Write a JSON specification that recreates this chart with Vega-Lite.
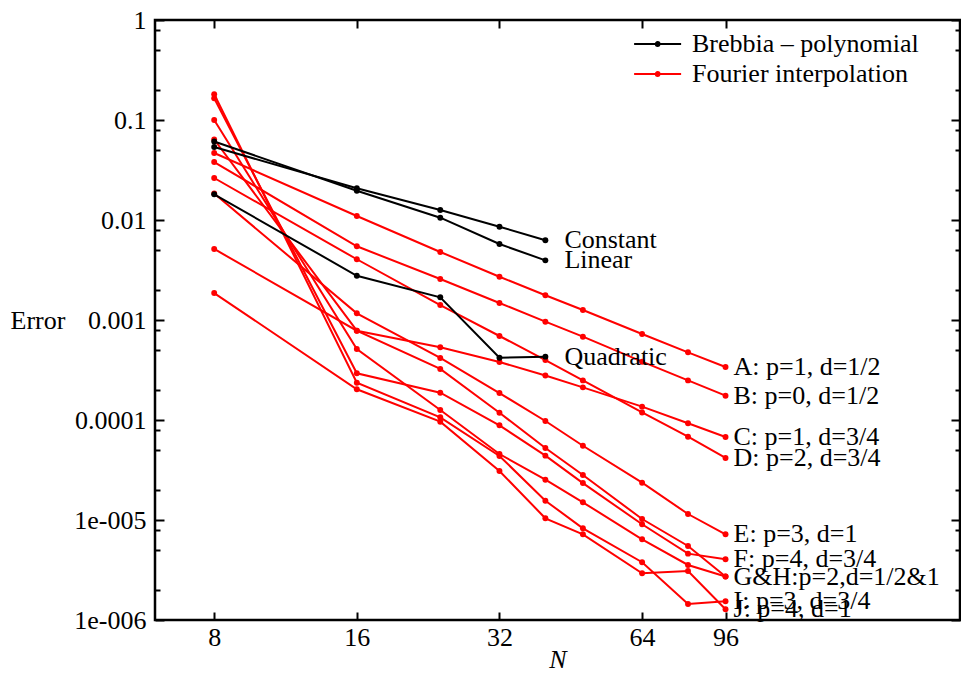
{
  "$schema": "https://vega.github.io/schema/vega-lite/v6.json",
  "width": 805,
  "height": 600,
  "autosize": {"type": "none"},
  "padding": {"left": 155, "top": 20, "right": 1, "bottom": 53},
  "background": "white",
  "config": {
    "view": {"stroke": "black", "strokeWidth": 2.5},
    "font": "Liberation Serif",
    "axis": {
      "grid": false,
      "domain": false,
      "tickColor": "black",
      "tickWidth": 2,
      "labelFont": "Liberation Serif",
      "labelFontSize": 26,
      "labelColor": "black",
      "titleFont": "Liberation Serif",
      "titleFontSize": 26,
      "titleFontWeight": "normal",
      "titleColor": "black",
      "labelFlush": false,
      "labelOverlap": false
    }
  },
  "datasets": {
    "curves": [
      {"curve": "A", "method": "Fourier interpolation", "N": 8, "err": 0.0468},
      {"curve": "A", "method": "Fourier interpolation", "N": 16, "err": 0.01096},
      {"curve": "A", "method": "Fourier interpolation", "N": 24, "err": 0.00479},
      {"curve": "A", "method": "Fourier interpolation", "N": 32, "err": 0.00271},
      {"curve": "A", "method": "Fourier interpolation", "N": 40, "err": 0.001766},
      {"curve": "A", "method": "Fourier interpolation", "N": 48, "err": 0.001259},
      {"curve": "A", "method": "Fourier interpolation", "N": 64, "err": 0.000724},
      {"curve": "A", "method": "Fourier interpolation", "N": 80, "err": 0.000475},
      {"curve": "A", "method": "Fourier interpolation", "N": 96, "err": 0.000339},
      {"curve": "B", "method": "Fourier interpolation", "N": 8, "err": 0.038},
      {"curve": "B", "method": "Fourier interpolation", "N": 16, "err": 0.00546},
      {"curve": "B", "method": "Fourier interpolation", "N": 24, "err": 0.00257},
      {"curve": "B", "method": "Fourier interpolation", "N": 32, "err": 0.00148},
      {"curve": "B", "method": "Fourier interpolation", "N": 40, "err": 0.000962},
      {"curve": "B", "method": "Fourier interpolation", "N": 48, "err": 0.000681},
      {"curve": "B", "method": "Fourier interpolation", "N": 64, "err": 0.000383},
      {"curve": "B", "method": "Fourier interpolation", "N": 80, "err": 0.000249},
      {"curve": "B", "method": "Fourier interpolation", "N": 96, "err": 0.000175},
      {"curve": "C", "method": "Fourier interpolation", "N": 8, "err": 0.00513},
      {"curve": "C", "method": "Fourier interpolation", "N": 16, "err": 0.000782},
      {"curve": "C", "method": "Fourier interpolation", "N": 24, "err": 0.000533},
      {"curve": "C", "method": "Fourier interpolation", "N": 32, "err": 0.00038},
      {"curve": "C", "method": "Fourier interpolation", "N": 40, "err": 0.000279},
      {"curve": "C", "method": "Fourier interpolation", "N": 48, "err": 0.000212},
      {"curve": "C", "method": "Fourier interpolation", "N": 64, "err": 0.000136},
      {"curve": "C", "method": "Fourier interpolation", "N": 80, "err": 0.0000927},
      {"curve": "C", "method": "Fourier interpolation", "N": 96, "err": 0.0000676},
      {"curve": "D", "method": "Fourier interpolation", "N": 8, "err": 0.0263},
      {"curve": "D", "method": "Fourier interpolation", "N": 16, "err": 0.00405},
      {"curve": "D", "method": "Fourier interpolation", "N": 24, "err": 0.00141},
      {"curve": "D", "method": "Fourier interpolation", "N": 32, "err": 0.000692},
      {"curve": "D", "method": "Fourier interpolation", "N": 40, "err": 0.000398},
      {"curve": "D", "method": "Fourier interpolation", "N": 48, "err": 0.000249},
      {"curve": "D", "method": "Fourier interpolation", "N": 64, "err": 0.000119},
      {"curve": "D", "method": "Fourier interpolation", "N": 80, "err": 0.0000681},
      {"curve": "D", "method": "Fourier interpolation", "N": 96, "err": 0.0000417},
      {"curve": "E", "method": "Fourier interpolation", "N": 8, "err": 0.0184},
      {"curve": "E", "method": "Fourier interpolation", "N": 16, "err": 0.001167},
      {"curve": "E", "method": "Fourier interpolation", "N": 24, "err": 0.000417},
      {"curve": "E", "method": "Fourier interpolation", "N": 32, "err": 0.000186},
      {"curve": "E", "method": "Fourier interpolation", "N": 40, "err": 0.0000977},
      {"curve": "E", "method": "Fourier interpolation", "N": 48, "err": 0.0000553},
      {"curve": "E", "method": "Fourier interpolation", "N": 64, "err": 0.0000236},
      {"curve": "E", "method": "Fourier interpolation", "N": 80, "err": 0.00001148},
      {"curve": "E", "method": "Fourier interpolation", "N": 96, "err": 0.00000719},
      {"curve": "F", "method": "Fourier interpolation", "N": 8, "err": 0.165},
      {"curve": "F", "method": "Fourier interpolation", "N": 16, "err": 0.000293},
      {"curve": "F", "method": "Fourier interpolation", "N": 24, "err": 0.0001875},
      {"curve": "F", "method": "Fourier interpolation", "N": 32, "err": 0.0000885},
      {"curve": "F", "method": "Fourier interpolation", "N": 40, "err": 0.000044},
      {"curve": "F", "method": "Fourier interpolation", "N": 48, "err": 0.0000234},
      {"curve": "F", "method": "Fourier interpolation", "N": 64, "err": 0.00000906},
      {"curve": "F", "method": "Fourier interpolation", "N": 80, "err": 0.00000461},
      {"curve": "F", "method": "Fourier interpolation", "N": 96, "err": 0.00000405},
      {"curve": "G", "method": "Fourier interpolation", "N": 8, "err": 0.0638},
      {"curve": "G", "method": "Fourier interpolation", "N": 16, "err": 0.000782},
      {"curve": "G", "method": "Fourier interpolation", "N": 24, "err": 0.000324},
      {"curve": "G", "method": "Fourier interpolation", "N": 32, "err": 0.000118},
      {"curve": "G", "method": "Fourier interpolation", "N": 40, "err": 0.0000525},
      {"curve": "G", "method": "Fourier interpolation", "N": 48, "err": 0.0000282},
      {"curve": "G", "method": "Fourier interpolation", "N": 64, "err": 0.00001023},
      {"curve": "G", "method": "Fourier interpolation", "N": 80, "err": 0.0000055},
      {"curve": "G", "method": "Fourier interpolation", "N": 96, "err": 0.00000272},
      {"curve": "H", "method": "Fourier interpolation", "N": 8, "err": 0.1},
      {"curve": "H", "method": "Fourier interpolation", "N": 16, "err": 0.000513},
      {"curve": "H", "method": "Fourier interpolation", "N": 24, "err": 0.000126},
      {"curve": "H", "method": "Fourier interpolation", "N": 32, "err": 0.0000457},
      {"curve": "H", "method": "Fourier interpolation", "N": 40, "err": 0.0000253},
      {"curve": "H", "method": "Fourier interpolation", "N": 48, "err": 0.00001503},
      {"curve": "H", "method": "Fourier interpolation", "N": 64, "err": 0.00000641},
      {"curve": "H", "method": "Fourier interpolation", "N": 80, "err": 0.00000355},
      {"curve": "H", "method": "Fourier interpolation", "N": 96, "err": 0.00000272},
      {"curve": "I", "method": "Fourier interpolation", "N": 8, "err": 0.1807},
      {"curve": "I", "method": "Fourier interpolation", "N": 16, "err": 0.000236},
      {"curve": "I", "method": "Fourier interpolation", "N": 24, "err": 0.0001064},
      {"curve": "I", "method": "Fourier interpolation", "N": 32, "err": 0.0000437},
      {"curve": "I", "method": "Fourier interpolation", "N": 40, "err": 0.0000156},
      {"curve": "I", "method": "Fourier interpolation", "N": 48, "err": 0.00000826},
      {"curve": "I", "method": "Fourier interpolation", "N": 64, "err": 0.00000378},
      {"curve": "I", "method": "Fourier interpolation", "N": 80, "err": 0.000001445},
      {"curve": "I", "method": "Fourier interpolation", "N": 96, "err": 0.000001538},
      {"curve": "J", "method": "Fourier interpolation", "N": 8, "err": 0.00186},
      {"curve": "J", "method": "Fourier interpolation", "N": 16, "err": 0.000203},
      {"curve": "J", "method": "Fourier interpolation", "N": 24, "err": 0.0000962},
      {"curve": "J", "method": "Fourier interpolation", "N": 32, "err": 0.0000309},
      {"curve": "J", "method": "Fourier interpolation", "N": 40, "err": 0.0000104},
      {"curve": "J", "method": "Fourier interpolation", "N": 48, "err": 0.00000719},
      {"curve": "J", "method": "Fourier interpolation", "N": 64, "err": 0.00000293},
      {"curve": "J", "method": "Fourier interpolation", "N": 80, "err": 0.00000309},
      {"curve": "J", "method": "Fourier interpolation", "N": 96, "err": 0.00000128},
      {"curve": "Constant", "method": "Brebbia \u2013 polynomial", "N": 8, "err": 0.0537},
      {"curve": "Constant", "method": "Brebbia \u2013 polynomial", "N": 16, "err": 0.02075},
      {"curve": "Constant", "method": "Brebbia \u2013 polynomial", "N": 24, "err": 0.01259},
      {"curve": "Constant", "method": "Brebbia \u2013 polynomial", "N": 32, "err": 0.00857},
      {"curve": "Constant", "method": "Brebbia \u2013 polynomial", "N": 40, "err": 0.00627},
      {"curve": "Linear", "method": "Brebbia \u2013 polynomial", "N": 8, "err": 0.061},
      {"curve": "Linear", "method": "Brebbia \u2013 polynomial", "N": 16, "err": 0.01963},
      {"curve": "Linear", "method": "Brebbia \u2013 polynomial", "N": 24, "err": 0.01055},
      {"curve": "Linear", "method": "Brebbia \u2013 polynomial", "N": 32, "err": 0.00575},
      {"curve": "Linear", "method": "Brebbia \u2013 polynomial", "N": 40, "err": 0.00395},
      {"curve": "Quadratic", "method": "Brebbia \u2013 polynomial", "N": 8, "err": 0.01807},
      {"curve": "Quadratic", "method": "Brebbia \u2013 polynomial", "N": 16, "err": 0.00277},
      {"curve": "Quadratic", "method": "Brebbia \u2013 polynomial", "N": 24, "err": 0.001686},
      {"curve": "Quadratic", "method": "Brebbia \u2013 polynomial", "N": 32, "err": 0.00042},
      {"curve": "Quadratic", "method": "Brebbia \u2013 polynomial", "N": 40, "err": 0.00043}
    ],
    "labels": [
      {"kind": "red", "N": 96, "err": 0.000339, "label": "A: p=1, d=1/2"},
      {"kind": "red", "N": 96, "err": 0.000175, "label": "B: p=0, d=1/2"},
      {"kind": "red", "N": 96, "err": 0.0000676, "label": "C: p=1, d=3/4"},
      {"kind": "red", "N": 96, "err": 0.0000417, "label": "D: p=2, d=3/4"},
      {"kind": "red", "N": 96, "err": 0.00000719, "label": "E: p=3, d=1"},
      {"kind": "red", "N": 96, "err": 0.00000405, "label": "F: p=4, d=3/4"},
      {"kind": "red", "N": 96, "err": 0.00000272, "label": "G&H:p=2,d=1/2&1"},
      {"kind": "red", "N": 96, "err": 0.000001538, "label": "I: p=3, d=3/4"},
      {"kind": "red", "N": 96, "err": 0.00000128, "label": "J: p=4, d=1"},
      {"kind": "black", "N": 40, "err": 0.00627, "label": "Constant"},
      {"kind": "black", "N": 40, "err": 0.00395, "label": "Linear"},
      {"kind": "black", "N": 40, "err": 0.00043, "label": "Quadratic"}
    ]
  },
  "layer": [
    {
      "data": {"name": "curves"},
      "mark": {"type": "line", "strokeWidth": 2, "point": {"filled": true, "size": 35}},
      "encoding": {
        "x": {
          "field": "N", "type": "quantitative",
          "scale": {"type": "log", "base": 2, "domain": [6, 300], "nice": false},
          "axis": {
            "orient": "bottom", "values": [8, 16, 32, 64, 96], "format": "d",
            "tickSize": -8, "labelPadding": 12,
            "title": "N", "titleFontStyle": "italic", "titleBaseline": "alphabetic", "titleY": 47
          }
        },
        "y": {
          "field": "err", "type": "quantitative",
          "scale": {"type": "log", "domain": [0.000001, 1], "nice": false},
          "axis": {
            "orient": "left",
            "values": [1, 0.8, 0.5, 0.2, 0.1, 0.08, 0.05, 0.02, 0.01, 0.008, 0.005, 0.002, 0.001, 0.0008, 0.0005, 0.0002, 0.0001, 0.00008, 0.00005, 0.00002, 0.00001, 0.000008, 0.000005, 0.000002, 0.000001],
            "labelExpr": "(abs(log(datum.value)/LN10 - round(log(datum.value)/LN10)) > 0.001) ? '' : (round(log(datum.value)/LN10) >= -4 ? format(datum.value, '.' + (-round(log(datum.value)/LN10)) + 'f') : '1e-00' + (-round(log(datum.value)/LN10)))",
            "tickSize": {"condition": {"test": "abs(log(datum.value)/LN10 - round(log(datum.value)/LN10)) < 0.001", "value": -9}, "value": -5},
            "labelPadding": 18,
            "title": "Error", "titleAngle": 0, "titleAlign": "left", "titleBaseline": "middle", "titleX": -145, "titleY": 300
          }
        },
        "color": {
          "field": "method", "type": "nominal",
          "scale": {"domain": ["Brebbia \u2013 polynomial", "Fourier interpolation"], "range": ["#000000", "#ff0000"]},
          "legend": {
            "orient": "none", "legendX": 472, "legendY": 11, "title": null,
            "symbolType": "M-1,0L7,0M2.68,0A0.32,0.32,0,1,0,3.32,0A0.32,0.32,0,1,0,2.68,0",
            "symbolSize": 138, "symbolStrokeWidth": 2,
            "labelFont": "Liberation Serif", "labelFontSize": 26, "labelColor": "black", "labelLimit": 0,
            "labelOffset": 39, "rowPadding": 4, "padding": 0
          }
        },
        "detail": {"field": "curve"}
      }
    },
    {
      "data": {"name": "labels"},
      "transform": [{"filter": "datum.kind == 'red'"}],
      "mark": {"type": "text", "align": "left", "baseline": "middle", "dx": 8, "font": "Liberation Serif", "fontSize": 26, "color": "black"},
      "encoding": {
        "x": {
          "field": "N", "type": "quantitative",
          "scale": {"type": "log", "base": 2, "domain": [6, 300], "nice": false},
          "axis": {"orient": "top", "values": [8, 16, 32, 64, 96], "labels": false, "tickSize": -8, "title": null}
        },
        "y": {
          "field": "err", "type": "quantitative",
          "scale": {"type": "log", "domain": [0.000001, 1], "nice": false},
          "axis": {
            "orient": "right", "labels": false, "title": null,
            "values": [1, 0.8, 0.5, 0.2, 0.1, 0.08, 0.05, 0.02, 0.01, 0.008, 0.005, 0.002, 0.001, 0.0008, 0.0005, 0.0002, 0.0001, 0.00008, 0.00005, 0.00002, 0.00001, 0.000008, 0.000005, 0.000002, 0.000001],
            "tickSize": {"condition": {"test": "abs(log(datum.value)/LN10 - round(log(datum.value)/LN10)) < 0.001", "value": -9}, "value": -5}
          }
        },
        "text": {"field": "label"}
      }
    },
    {
      "data": {"name": "labels"},
      "transform": [{"filter": "datum.kind == 'black'"}],
      "mark": {"type": "text", "align": "left", "baseline": "middle", "dx": 19, "font": "Liberation Serif", "fontSize": 26, "color": "black"},
      "encoding": {
        "x": {"field": "N", "type": "quantitative", "scale": {"type": "log", "base": 2, "domain": [6, 300], "nice": false}, "axis": null},
        "y": {"field": "err", "type": "quantitative", "scale": {"type": "log", "domain": [0.000001, 1], "nice": false}, "axis": null},
        "text": {"field": "label"}
      }
    }
  ],
  "resolve": {"axis": {"x": "independent", "y": "independent"}}
}
